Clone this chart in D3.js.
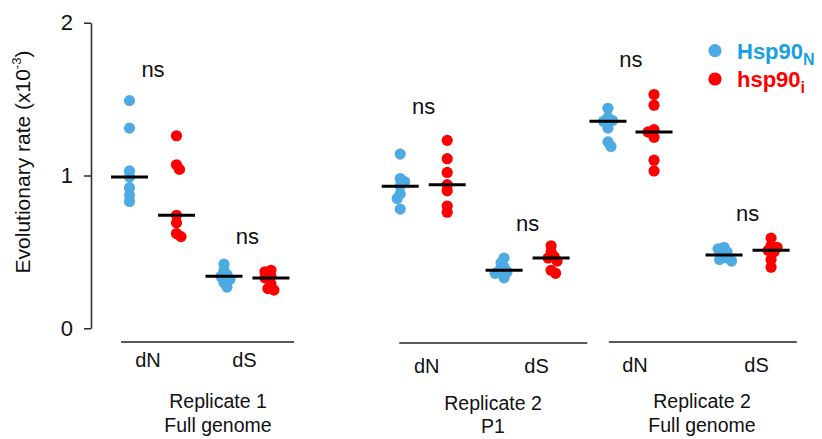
<!DOCTYPE html>
<html><head><meta charset="utf-8">
<script src="https://cdn.jsdelivr.net/npm/d3@7"></script>
<style>
html,body{margin:0;padding:0;background:#fff;}
text{font-family:Arial,"Liberation Sans",Helvetica,sans-serif;}
</style></head>
<body><svg id="chart" width="822" height="439"></svg>
<script>
// ---------------- DATA ----------------
const groups = [["Replicate 1","Full genome"],["Replicate 2","P1"],["Replicate 2","Full genome"]];
const rateTypes = ["dN","dS"];
const seriesNames = ["Hsp90","hsp90"];
const seriesSubs = ["N","i"];
const yTicks = [0,1,2];
const nsLabel = "ns";

// values (x10^-3), one array per group / rate / series
const rep1_dN_N = [1.49, 1.31, 1.03, 0.99, 0.92, 0.87, 0.83];
const rep1_dN_i = [1.26, 1.07, 1.04, 0.74, 0.69, 0.62, 0.60];
const rep1_dS_N = [0.42, 0.38, 0.35, 0.34, 0.32, 0.30, 0.27];
const rep1_dS_i = [0.38, 0.37, 0.34, 0.33, 0.29, 0.26, 0.25];
const rep2P1_dN_N = [1.14, 0.98, 0.96, 0.93, 0.88, 0.85, 0.78];
const rep2P1_dN_i = [1.23, 1.11, 1.02, 0.94, 0.90, 0.80, 0.76];
const rep2P1_dS_N = [0.46, 0.43, 0.40, 0.38, 0.37, 0.36, 0.33];
const rep2P1_dS_i = [0.54, 0.50, 0.47, 0.46, 0.44, 0.38, 0.36];
const rep2FG_dN_N = [1.44, 1.38, 1.36, 1.355, 1.31, 1.22, 1.19];
const rep2FG_dN_i = [1.53, 1.46, 1.30, 1.285, 1.25, 1.10, 1.03];
const rep2FG_dS_N = [0.53, 0.52, 0.50, 0.48, 0.46, 0.45, 0.44];
const rep2FG_dS_i = [0.59, 0.54, 0.53, 0.51, 0.50, 0.45, 0.40];

// "ns" annotation heights (data units)
const nsHeights = [1.645, 0.552, 1.40, 0.637, 1.71, 0.702];

// ---------------- LAYOUT ----------------
const W = 822, H = 439;
const colors = ["#4DAAE2", "#FF0000"];
const legendColors = ["#1A9FE2", "#FF0000"];
// column slots (x units) for each group x rate x series
const slots = [1, 2, 3.01, 4.01, 6.76, 7.76, 8.97, 9.97, 11.18, 12.16, 13.65, 14.65];
const groupSpan = [[0.82, 4.5], [6.74, 10.74], [11.2, 15.2]];
const rateLabelOffsets = [[-5, -3], [3, 9], [4, 9]];
const rateLabelBaselines = [367, 373, 372];
const groupLabelX = [218, 493, 702];
const groupLabelBaselines = [[408, 432], [410, 433], [408, 432]];
const groupLineY = [342, 343, 342];
const R = 5.6;

const columns = [
  rep1_dN_N, rep1_dN_i, rep1_dS_N, rep1_dS_i,
  rep2P1_dN_N, rep2P1_dN_i, rep2P1_dS_N, rep2P1_dS_i,
  rep2FG_dN_N, rep2FG_dN_i, rep2FG_dS_N, rep2FG_dS_i
];

const svg = d3.select("#chart");
const x = d3.scaleLinear().domain([1, 2]).range([129.5, 176.5]);
const y = d3.scaleLinear().domain([0, 2]).range([328.3, 22.7]);

// y axis
const axis = d3.axisLeft(y).tickValues(yTicks).tickFormat(d3.format("d")).tickSize(7).tickSizeOuter(0).tickPadding(11);
const ag = svg.append("g").attr("transform", "translate(91,0)").call(axis);
ag.select(".domain").attr("stroke", "#333").attr("stroke-width", 1.6);
ag.selectAll(".tick line").attr("stroke", "#333").attr("stroke-width", 1.6);
ag.selectAll(".tick text").attr("font-size", 22).attr("fill", "#111").attr("font-family", "Arial, 'Liberation Sans', sans-serif");

// y title
const yt = svg.append("text")
  .attr("transform", "translate(30,162) rotate(-90)")
  .attr("text-anchor", "middle")
  .attr("font-size", 21).attr("fill", "#111");
yt.append("tspan").text("Evolutionary rate (x10");
yt.append("tspan").text("-3").attr("font-size", 13).attr("dy", -9);
yt.append("tspan").text(")").attr("dy", 9);

// simple deterministic swarm
function swarm(vals, cx) {
  const placed = [];
  const sorted = vals.map((v, i) => ({ v, i })).sort((a, b) => b.v - a.v);
  const minD = R * 0.95;
  sorted.forEach((p, k) => {
    const py = y(p.v);
    const sgn = k % 2 ? -1 : 1;
    const cands = [0];
    for (let j = 1; j < 12; j++) { cands.push(sgn * j * 1.5); cands.push(-sgn * j * 1.5); }
    let chosen = cands[cands.length - 1];
    for (const o of cands) {
      const px = cx + o;
      if (placed.every(q => Math.hypot(q.x - px, q.y - py) >= minD)) { chosen = o; break; }
    }
    placed.push({ x: cx + chosen, y: py, v: p.v });
  });
  return placed;
}

columns.forEach((vals, ci) => {
  const cx = x(slots[ci]);
  const series = ci % 2;
  const pts = swarm(vals, cx);
  svg.append("g").selectAll("circle").data(pts).join("circle")
    .attr("cx", d => d.x).attr("cy", d => d.y).attr("r", R)
    .attr("fill", colors[series]);
  const med = d3.median(vals);
  svg.append("line")
    .attr("x1", cx - 18.5).attr("x2", cx + 18.5)
    .attr("y1", y(med)).attr("y2", y(med))
    .attr("stroke", "#000").attr("stroke-width", 3);
});

// ns labels
nsHeights.forEach((h, k) => {
  const cx = (x(slots[2 * k]) + x(slots[2 * k + 1])) / 2;
  svg.append("text").attr("x", cx).attr("y", y(h))
    .attr("text-anchor", "middle").attr("font-size", 22).attr("fill", "#111").text(nsLabel);
});

// group lines and labels
groups.forEach((g, gi) => {
  svg.append("line")
    .attr("x1", x(groupSpan[gi][0])).attr("x2", x(groupSpan[gi][1]))
    .attr("y1", groupLineY[gi]).attr("y2", groupLineY[gi])
    .attr("stroke", "#222").attr("stroke-width", 1.5);
  rateTypes.forEach((r, ri) => {
    const c = 4 * gi + 2 * ri;
    const cx = (x(slots[c]) + x(slots[c + 1])) / 2 + rateLabelOffsets[gi][ri];
    svg.append("text").attr("x", cx).attr("y", rateLabelBaselines[gi])
      .attr("text-anchor", "middle").attr("font-size", 20).attr("fill", "#111").text(r);
  });
  g.forEach((line, li) => {
    svg.append("text").attr("x", groupLabelX[gi]).attr("y", groupLabelBaselines[gi][li])
      .attr("text-anchor", "middle").attr("font-size", 19.5).attr("fill", "#111").text(line);
  });
});

// legend
const legY = [50.7, 79];
seriesNames.forEach((s, i) => {
  svg.append("circle").attr("cx", 715).attr("cy", legY[i]).attr("r", 6.6).attr("fill", colors[i]);
  const t = svg.append("text").attr("x", 737).attr("y", legY[i] + 8)
    .attr("font-size", 22).attr("font-weight", "bold").attr("fill", legendColors[i]);
  t.append("tspan").text(s);
  t.append("tspan").text(seriesSubs[i]).attr("font-size", 16).attr("dy", 6);
});
</script>
</body></html>
